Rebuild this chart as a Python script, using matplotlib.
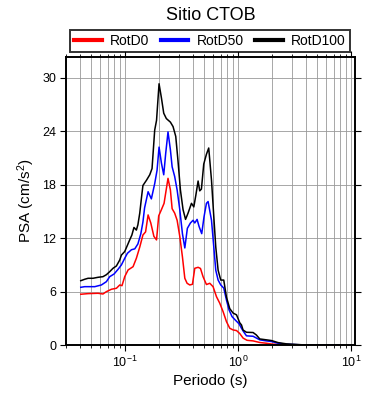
import numpy as np
import matplotlib
matplotlib.use("Agg")
import matplotlib.pyplot as plt
from matplotlib.ticker import LogLocator, MultipleLocator, NullFormatter

plt.rcParams['font.family'] = ['Liberation Sans', 'DejaVu Sans']
plt.rcParams['mathtext.fontset'] = 'custom'
plt.rcParams['mathtext.rm'] = 'Liberation Sans'
plt.rcParams['mathtext.it'] = 'Liberation Sans:italic'

# RotD100 (black)
t_d100 = [0.0406, 0.044, 0.0471, 0.0521, 0.0577, 0.0638, 0.0684, 0.0732, 0.0783, 0.0839,
          0.0898, 0.0929, 0.0994, 0.105, 0.110, 0.115, 0.120, 0.126, 0.130, 0.135,
          0.140, 0.144, 0.155, 0.1655, 0.1734, 0.183, 0.190, 0.200, 0.210, 0.220,
          0.232, 0.252, 0.266, 0.281, 0.294, 0.309, 0.326, 0.343, 0.361, 0.387,
          0.406, 0.423, 0.443, 0.458, 0.474, 0.497, 0.525, 0.550, 0.582, 0.610,
          0.635, 0.666, 0.703, 0.747, 0.789, 0.844, 0.904, 0.969, 1.036, 1.072,
          1.107, 1.186, 1.358, 1.45, 1.556, 1.783, 1.976, 2.26, 2.68, 3.76, 5.29, 7.94]
psa_d100 = [7.23, 7.39, 7.5, 7.5, 7.61, 7.68, 7.9, 8.24, 8.62, 8.88,
            9.55, 10.1, 10.5, 11.2, 11.8, 12.35, 13.2, 12.9, 13.5, 14.8,
            16.6, 17.9, 18.5, 19.1, 19.8, 24.1, 25.2, 29.3, 27.7, 26.0,
            25.4, 25.0, 24.5, 23.4, 20.7, 17.4, 15.2, 14.1, 14.8, 15.9,
            15.5, 16.8, 18.4, 17.3, 17.5, 20.3, 21.4, 22.1, 18.5, 14.4,
            11.0, 8.4, 7.3, 7.3, 5.4, 4.1, 3.6, 3.4, 2.5, 2.27,
            1.7, 1.45, 1.42, 1.15, 0.7, 0.6, 0.52, 0.29, 0.15, 0.04, 0.02, 0.01]

# RotD50 (blue)
t_d50 = [0.0406, 0.044, 0.054, 0.0618, 0.0684, 0.0732, 0.080, 0.0867, 0.0929, 0.0994,
         0.105, 0.114, 0.122, 0.130, 0.138, 0.144, 0.149, 0.160, 0.171, 0.183,
         0.192, 0.200, 0.210, 0.220, 0.229, 0.240, 0.252, 0.261, 0.275, 0.289,
         0.305, 0.322, 0.338, 0.356, 0.379, 0.400, 0.414, 0.434, 0.452, 0.477,
         0.500, 0.525, 0.543, 0.582, 0.610, 0.635, 0.666, 0.703, 0.747, 0.789,
         0.832, 0.885, 0.948, 1.020, 1.072, 1.107, 1.186, 1.358, 1.556, 1.783,
         1.976, 2.26, 2.68, 3.76, 7.94]
psa_d50 = [6.49, 6.56, 6.56, 6.75, 7.12, 7.68, 7.98, 8.5, 9.0, 9.74,
           10.3, 10.7, 10.8, 11.35, 12.5, 13.8, 15.4, 17.2, 16.4, 18.1,
           19.6, 22.2, 20.4, 19.1, 21.5, 23.9, 21.9, 20.0, 18.9, 17.4,
           15.2, 12.5, 10.9, 13.1, 13.7, 14.0, 13.7, 14.1, 13.3, 12.5,
           14.4, 15.9, 16.1, 14.0, 11.0, 8.4, 7.3, 6.75, 6.4, 5.07,
           3.95, 3.2, 2.8, 2.4, 1.9, 1.6, 1.05, 1.0, 0.6, 0.48,
           0.41, 0.22, 0.11, 0.03, 0.005]

# RotD0 (red)
t_d0 = [0.0406, 0.0471, 0.0577, 0.0638, 0.0684, 0.0758, 0.0839, 0.0898, 0.094, 0.0994,
        0.1064, 0.1178, 0.126, 0.135, 0.144, 0.152, 0.160, 0.169, 0.180, 0.190,
        0.1986, 0.210, 0.2215, 0.240, 0.252, 0.261, 0.275, 0.289, 0.305, 0.322,
        0.338, 0.354, 0.374, 0.395, 0.414, 0.443, 0.465, 0.490, 0.525, 0.562,
        0.601, 0.644, 0.689, 0.737, 0.789, 0.844, 0.904, 0.969, 1.036, 1.107,
        1.20, 1.36, 1.56, 1.78, 2.0, 2.7, 4.0, 8.0]
psa_d0 = [5.71, 5.78, 5.82, 5.74, 6.0, 6.27, 6.38, 6.75, 6.67, 7.68,
          8.43, 8.8, 9.74, 11.0, 12.35, 12.7, 14.6, 13.7, 12.2, 11.8,
          14.5, 15.2, 15.9, 18.7, 17.4, 15.3, 14.8, 14.0, 12.2, 9.9,
          7.5, 6.94, 6.75, 6.83, 8.62, 8.73, 8.6, 7.68, 6.8, 6.94,
          6.56, 5.44, 4.7, 3.76, 2.65, 1.9, 1.71, 1.64, 1.3, 0.8,
          0.55, 0.48, 0.3, 0.22, 0.12, 0.04, 0.01, 0.005]

labels = ['RotD0', 'RotD50', 'RotD100']
colors = ['red', 'blue', 'black']

fig = plt.figure(figsize=(3.9, 4.0), dpi=100)
ax = fig.add_axes([0.169, 0.137, 0.741, 0.7205])

l0, = ax.plot(t_d0, psa_d0, color=colors[0], lw=1.1)
l1, = ax.plot(t_d50, psa_d50, color=colors[1], lw=1.1)
l2, = ax.plot(t_d100, psa_d100, color=colors[2], lw=1.1)

ax.set_xscale('log')
ax.set_xlim(0.03, 10.8)
ax.set_ylim(0, 32.3)
ax.yaxis.set_major_locator(MultipleLocator(6))
ax.xaxis.set_major_locator(LogLocator(base=10, numticks=10))
ax.xaxis.set_minor_locator(LogLocator(base=10, subs=np.arange(2, 10), numticks=20))
ax.xaxis.set_minor_formatter(NullFormatter())

ax.grid(True, which='major', color='0.6', lw=0.6)
ax.grid(True, which='minor', axis='x', color='0.6', lw=0.6)
ax.set_axisbelow(True)

for s in ax.spines.values():
    s.set_linewidth(1.4)
ax.tick_params(axis='both', which='major', direction='out', length=4, width=0.8,
               labelsize=9, top=True, right=True, pad=3)
ax.tick_params(axis='x', which='minor', direction='out', length=2.5, width=0.6,
               top=True)

ax.set_xlabel('Periodo (s)', fontsize=11, labelpad=3)
ax.set_ylabel('PSA (cm/s$^2$)', fontsize=11, labelpad=4)

fig.text(0.54, 0.962, 'Sitio CTOB', ha='center', va='center', fontsize=13)

leg = fig.legend([l0, l1, l2], labels, loc='center', ncol=3,
                 bbox_to_anchor=(210/390, 1-41/400),
                 fontsize=10, frameon=True, fancybox=False, handlelength=2.0,
                 handletextpad=0.6, borderpad=0.3, columnspacing=0.8, borderaxespad=0)
leg.get_frame().set_edgecolor('black')
leg.get_frame().set_linewidth(1.4)
for h in leg.get_lines():
    h.set_linewidth(3)

fig.savefig('out.png', dpi=100)
